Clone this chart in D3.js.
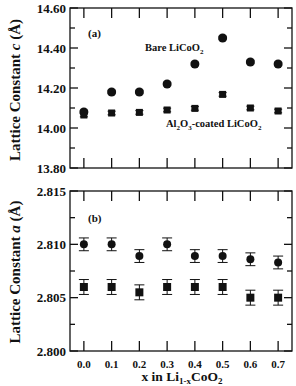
<!DOCTYPE html>
<html><head><meta charset="utf-8">
<script src="https://cdn.jsdelivr.net/npm/d3@7"></script>
<style>body{margin:0;background:#fff}svg{display:block}text{font-family:"Liberation Serif","Times New Roman",serif;font-weight:bold;fill:#111}</style>
</head><body>
<script>
const xValues = [0.0, 0.1, 0.2, 0.3, 0.4, 0.5, 0.6, 0.7];
const xTickLabels = ["0.0","0.1","0.2","0.3","0.4","0.5","0.6","0.7"];
const cBare = [14.08, 14.18, 14.18, 14.22, 14.32, 14.45, 14.33, 14.32];
const cCoated = [14.065, 14.075, 14.078, 14.09, 14.098, 14.168, 14.10, 14.085];
const cErr = 0.009;
const aBare = [2.8100, 2.8100, 2.8089, 2.8100, 2.8089, 2.8089, 2.8086, 2.8083];
const aCoated = [2.8060, 2.8060, 2.8055, 2.8060, 2.8060, 2.8060, 2.8050, 2.8050];
const aErrBare = 0.0006;
const aErrCoated = 0.0007;
const cTicks = [13.80, 14.00, 14.20, 14.40, 14.60];
const cMinor = [13.90, 14.10, 14.30, 14.50];
const aTicks = [2.800, 2.805, 2.810, 2.815];
const aMinor = [2.8025, 2.8075, 2.8125];

const W = 296, H = 386;
const svg = d3.select("body").append("svg").attr("width", W).attr("height", H);
const left = 70, right = 292;
const x = d3.scaleLinear().domain([-0.05, 0.75]).range([left, right]);
const yc = d3.scaleLinear().domain([13.80, 14.60]).range([168, 8]);
const ya = d3.scaleLinear().domain([2.800, 2.815]).range([351, 191]);

function panel(y, ticks, minor, fmt, showX) {
  const g = svg.append("g");
  const [y0, y1] = y.range();
  g.append("rect").attr("x", left).attr("y", y1).attr("width", right-left).attr("height", y0-y1)
    .attr("fill", "none").attr("stroke", "#111").attr("stroke-width", 1.3);
  xValues.forEach(v => {
    g.append("line").attr("x1", x(v)).attr("x2", x(v)).attr("y1", y1).attr("y2", y1+10).attr("stroke","#111").attr("stroke-width",1.3);
    g.append("line").attr("x1", x(v)).attr("x2", x(v)).attr("y1", y0).attr("y2", y0-10).attr("stroke","#111").attr("stroke-width",1.3);
  });
  ticks.forEach(t => {
    g.append("line").attr("x1", left).attr("x2", left+8).attr("y1", y(t)).attr("y2", y(t)).attr("stroke","#111").attr("stroke-width",1.3);
    g.append("line").attr("x1", right).attr("x2", right-8).attr("y1", y(t)).attr("y2", y(t)).attr("stroke","#111").attr("stroke-width",1.3);
    g.append("text").attr("x", left-4).attr("y", y(t)).attr("dy","0.35em").attr("text-anchor","end")
      .attr("font-size", 13).text(fmt(t));
  });
  minor.forEach(t => {
    g.append("line").attr("x1", left).attr("x2", left+5).attr("y1", y(t)).attr("y2", y(t)).attr("stroke","#111").attr("stroke-width",1.3);
    g.append("line").attr("x1", right).attr("x2", right-5).attr("y1", y(t)).attr("y2", y(t)).attr("stroke","#111").attr("stroke-width",1.3);
  });
  if (showX) {
    xValues.forEach((v,i) => {
      g.append("text").attr("x", x(v)).attr("y", y0+17).attr("text-anchor","middle").attr("font-size", 11).text(xTickLabels[i]);
    });
  }
  return g;
}

function errbars(g, y, vals, err, capW) {
  vals.forEach((v,i) => {
    const cx = x(xValues[i]);
    g.append("line").attr("x1",cx).attr("x2",cx).attr("y1",y(v-err)).attr("y2",y(v+err)).attr("stroke","#111").attr("stroke-width",1);
    [v-err, v+err].forEach(e => g.append("line").attr("x1",cx-capW).attr("x2",cx+capW).attr("y1",y(e)).attr("y2",y(e)).attr("stroke","#111").attr("stroke-width",1));
  });
}
function circles(g, y, vals, r) {
  g.selectAll(null).data(vals).enter().append("circle")
    .attr("cx",(d,i)=>x(xValues[i])).attr("cy",d=>y(d)).attr("r",r).attr("fill","#111");
}
function squares(g, y, vals, s) {
  g.selectAll(null).data(vals).enter().append("rect")
    .attr("x",(d,i)=>x(xValues[i])-s/2).attr("y",d=>y(d)-s/2).attr("width",s).attr("height",s).attr("fill","#111");
}

const ga = panel(yc, cTicks, cMinor, d3.format(".2f"), false);
errbars(ga, yc, cCoated, cErr, 4);
squares(ga, yc, cCoated, 7);
errbars(ga, yc, cBare, cErr, 4);
circles(ga, yc, cBare, 4.5);
ga.append("text").attr("x", 88).attr("y", 37).attr("font-size", 11).text("(a)");
const bare = ga.append("text").attr("x", 145).attr("y", 51).attr("font-size", 10.5);
bare.append("tspan").text("Bare LiCoO");
bare.append("tspan").attr("font-size", 7).attr("dy", 3).text("2");
const coat = ga.append("text").attr("x", 166).attr("y", 127).attr("font-size", 10.5);
coat.append("tspan").text("Al");
coat.append("tspan").attr("font-size", 7).attr("dy", 3).text("2");
coat.append("tspan").attr("dy", -3).text("O");
coat.append("tspan").attr("font-size", 7).attr("dy", 3).text("3");
coat.append("tspan").attr("dy", -3).text("-coated LiCoO");
coat.append("tspan").attr("font-size", 7).attr("dy", 3).text("2");

const gb = panel(ya, aTicks, aMinor, d3.format(".3f"), true);
errbars(gb, ya, aBare, aErrBare, 5);
circles(gb, ya, aBare, 4);
errbars(gb, ya, aCoated, aErrCoated, 5);
squares(gb, ya, aCoated, 8);
gb.append("text").attr("x", 88).attr("y", 222).attr("font-size", 11).text("(b)");

function ytitle(cy, letter) {
  const t = svg.append("text").attr("transform", `translate(20,${cy}) rotate(-90)`).attr("text-anchor","middle").attr("font-size", 15);
  t.append("tspan").text("Lattice Constant ");
  t.append("tspan").attr("font-style","italic").text(letter);
  t.append("tspan").text(" (Å)");
}
ytitle(90, "c");
ytitle(272, "a");

const xt = svg.append("text").attr("x", 182).attr("y", 381).attr("text-anchor","middle").attr("font-size", 13.5);
xt.append("tspan").text("x in Li");
xt.append("tspan").attr("font-size", 9).attr("dy", 2.5).text("1-x");
xt.append("tspan").attr("dy", -2.5).text("CoO");
xt.append("tspan").attr("font-size", 9).attr("dy", 2.5).text("2");
</script>
</body></html>
